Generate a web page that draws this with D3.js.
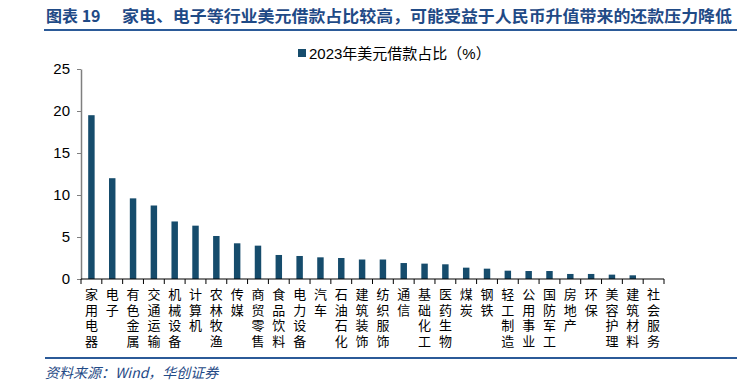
<!DOCTYPE html>
<html>
<head>
<meta charset="utf-8">
<script src="https://cdn.jsdelivr.net/npm/d3@7"></script>
<style>
  body { margin: 0; background: #fff; }
  svg { display: block; }
</style>
</head>
<body>
<div id="chart"></div>
<script>
// categories and values
const industries = [
  "家用电器", "电子", "有色金属", "交通运输", "机械设备", "计算机", "农林牧渔",
  "传媒", "商贸零售", "食品饮料", "电力设备", "汽车", "石油石化", "建筑装饰",
  "纺织服饰", "通信", "基础化工", "医药生物", "煤炭", "钢铁", "轻工制造",
  "公用事业", "国防军工", "房地产", "环保", "美容护理", "建筑材料", "社会服务"
];
const usdShare = [
  19.5, 12.0, 9.6, 8.75, 6.85, 6.35, 5.12,
  4.25, 3.97, 2.86, 2.74, 2.58, 2.5, 2.32,
  2.32, 1.9, 1.83, 1.75, 1.35, 1.23, 0.99,
  0.95, 0.95, 0.6, 0.6, 0.52, 0.44, 0
];
const yTicks = [0, 5, 10, 15, 20, 25];
const seriesName = "2023年美元借款占比（%）";
const titleLead = "图表 19";
const titleText = "家电、电子等行业美元借款占比较高，可能受益于人民币升值带来的还款压力降低";
const sourceText = "资料来源：Wind，华创证券";

const barColour = "#164c6c";
const navy = "#1f4a86";

const width = 754, height = 390;
const margin = { top: 69, right: 90, bottom: 111, left: 81 };
const innerW = width - margin.left - margin.right;
const innerH = height - margin.top - margin.bottom;

const svg = d3.select("#chart").append("svg")
  .attr("width", width)
  .attr("height", height);

// Title
svg.append("text")
  .attr("x", 46).attr("y", 22)
  .attr("fill", navy)
  .style("font-family", "'Noto Sans CJK SC', sans-serif")
  .style("font-weight", "bold")
  .style("font-size", "16px")
  .text(titleLead);

svg.append("text")
  .attr("x", 122).attr("y", 22)
  .attr("fill", navy)
  .attr("textLength", 610)
  .attr("lengthAdjust", "spacingAndGlyphs")
  .style("font-family", "'Noto Sans CJK SC', sans-serif")
  .style("font-weight", "bold")
  .style("font-size", "16px")
  .text(titleText);

svg.append("line")
  .attr("x1", 44).attr("x2", 737)
  .attr("y1", 30).attr("y2", 30)
  .attr("stroke", "#2b5a98")
  .attr("stroke-width", 2);

// Legend
svg.append("rect")
  .attr("x", 298).attr("y", 49)
  .attr("width", 8).attr("height", 8)
  .attr("fill", barColour);

svg.append("text")
  .attr("x", 309).attr("y", 58.5)
  .attr("fill", "#000")
  .style("font-family", "'Liberation Sans', 'Noto Sans CJK SC', sans-serif")
  .style("font-size", "15px")
  .text(seriesName);

const chart = svg.append("g")
  .attr("transform", `translate(${margin.left},${margin.top})`);

// Scales
const x = d3.scaleBand()
  .domain(industries)
  .range([0, innerW])
  .paddingInner(0.69)
  .paddingOuter(0.345);

const y = d3.scaleLinear()
  .domain([0, 25])
  .range([innerH, 0]);

// Bars
chart.selectAll(".bar")
  .data(industries.map((d, i) => ({ name: d, value: usdShare[i] })))
  .join("rect")
  .attr("class", "bar")
  .attr("x", d => x(d.name))
  .attr("y", d => y(d.value))
  .attr("width", x.bandwidth())
  .attr("height", d => innerH - y(d.value))
  .attr("fill", barColour);

// Y axis
const yAxis = d3.axisLeft(y)
  .tickValues(yTicks)
  .tickSize(4)
  .tickSizeOuter(0)
  .tickPadding(7);

const yAxisGroup = chart.append("g")
  .call(yAxis);
yAxisGroup.select(".domain").attr("stroke", "#7f7f7f").attr("stroke-width", 1.5);
yAxisGroup.selectAll(".tick line").attr("stroke", "#7f7f7f");
yAxisGroup.selectAll(".tick text")
  .style("font-family", "'Liberation Sans', Arial, sans-serif")
  .style("font-size", "15px")
  .attr("fill", "#000");

// X axis: ticks at category boundaries
const step = x.step();
const xAxisGroup = chart.append("g")
  .attr("transform", `translate(0,${innerH})`);

xAxisGroup.append("line")
  .attr("x1", 0).attr("x2", innerW)
  .attr("y1", 0).attr("y2", 0)
  .attr("stroke", "#000")
  .attr("stroke-width", 1.2);

xAxisGroup.selectAll(".xtick")
  .data(d3.range(industries.length + 1))
  .join("line")
  .attr("class", "xtick")
  .attr("x1", i => i * step).attr("x2", i => i * step)
  .attr("y1", 0).attr("y2", 5)
  .attr("stroke", "#000");

// vertical category labels, written top to bottom
xAxisGroup.selectAll(".xlabel")
  .data(industries)
  .join("text")
  .attr("class", "xlabel")
  .attr("x", d => x(d) + x.bandwidth() / 2)
  .attr("y", 9)
  .attr("fill", "#000")
  .style("writing-mode", "vertical-rl")
  .style("text-orientation", "upright")
  .style("letter-spacing", "2.5px")
  .style("font-family", "'Noto Sans CJK SC', sans-serif")
  .style("font-size", "13px")
  .text(d => d);

// Source footer
svg.append("line")
  .attr("x1", 45).attr("x2", 737)
  .attr("y1", 358).attr("y2", 358)
  .attr("stroke", "#2b5a98")
  .attr("stroke-width", 2);

svg.append("text")
  .attr("x", 45).attr("y", 378)
  .attr("fill", navy)
  .style("font-family", "'Noto Sans CJK SC', serif")
  .style("font-style", "italic")
  .style("font-size", "14px")
  .text(sourceText);
</script>
</body>
</html>
